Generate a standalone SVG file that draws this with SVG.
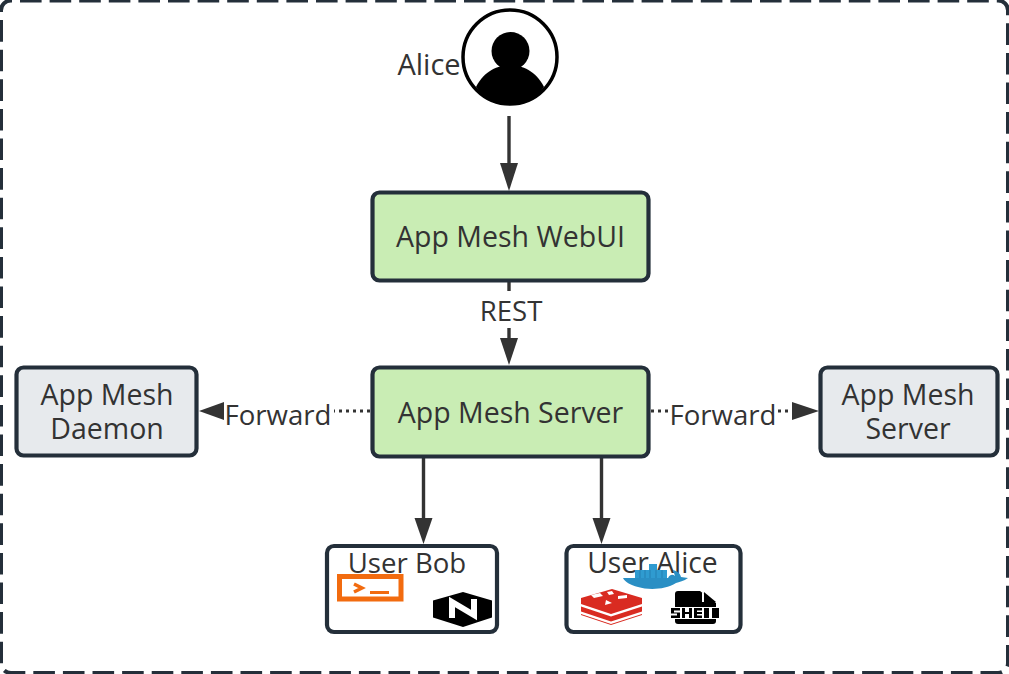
<svg xmlns="http://www.w3.org/2000/svg" width="1009" height="674" viewBox="0 0 1009 674">
<style>
text{font-family:"Open Sans","Noto Sans","Liberation Sans",sans-serif;fill:#333;text-anchor:middle}
.l{font-size:28.5px}.s{font-size:27.6px}
.box{stroke:#242f3a;stroke-width:4.2}
.g{fill:#c9edb4}.y{fill:#e7eaed}.w{fill:#fff}
.c{stroke:#333;stroke-width:3.400;fill:none}
.d{stroke:#333;stroke-width:3;fill:none;stroke-dasharray:3 4}
.h{fill:#333}
</style>
<rect width="1009" height="674" fill="#fff"/>
<rect id="frame" x="1" y="0.500" width="1007" height="672.500" rx="10" fill="none" stroke="#242f3a" stroke-width="4" stroke-dasharray="21.600 8" stroke-dashoffset="-9"/>
<g id="connectors">
<path class="c" d="M509 116V166"/><path class="h" d="M500 163h18l-9 28z"/>
<path class="c" d="M509 282V291"/><path class="c" d="M509 328V340"/><path class="h" d="M500 338h18l-9 27z"/>
<path class="d" d="M370 411H334"/><path class="h" d="M199 411l25-9v18z"/>
<path class="d" d="M651 411H668"/><path class="d" d="M778 411H792"/><path class="h" d="M792 402l27 9-27 9z"/>
<path class="c" d="M423.500 457V520"/><path class="h" d="M414.500 518h18l-9 26z"/>
<path class="c" d="M601.500 457V520"/><path class="h" d="M592.500 518h18l-9 26z"/>
<text class="s" x="511" y="321">REST</text>
<text class="s" x="278" y="425">Forward</text>
<text class="s" x="723" y="425">Forward</text>
</g>
<g id="alice">
<circle cx="510" cy="57" r="47" fill="#fff" stroke="#000" stroke-width="3.500"/>
<circle cx="510.500" cy="51" r="19" fill="#000"/>
<path d="M476 87C484 71 498 65 510 65S536 71 544 87C536 99 523 105 510 105S484 99 476 87Z" fill="#000"/>
<text class="s" x="429" y="75" style="font-size:29px">Alice</text>
</g>
<g id="webui"><rect class="box g" x="372.500" y="192.500" width="276" height="88" rx="7"/><text class="l" x="510.500" y="247">App Mesh WebUI</text></g>
<g id="server"><rect class="box g" x="372.500" y="367.500" width="276" height="89" rx="7"/><text class="l" x="510.500" y="423">App Mesh Server</text></g>
<g id="daemon"><rect class="box y" x="16.500" y="367.500" width="180" height="88" rx="7"/><text class="l" x="107" y="405">App Mesh</text><text class="l" x="107" y="439">Daemon</text></g>
<g id="remote"><rect class="box y" x="820.500" y="367.500" width="177" height="88" rx="7"/><text class="l" x="908" y="405">App Mesh</text><text class="l" x="908" y="439">Server</text></g>
<g id="bob">
<rect class="box w" x="327" y="546" width="170" height="86" rx="7"/>
<text class="s" x="407" y="573">User Bob</text>
<rect x="339.500" y="576.500" width="61.500" height="22.500" fill="#fff" stroke="#f26b0f" stroke-width="5"/>
<path d="M354 584l8 4-8 4" fill="none" stroke="#f26b0f" stroke-width="3.500"/><path d="M370 592.500h19" fill="none" stroke="#f26b0f" stroke-width="3"/>
<path d="M463 592l29 8.500v17L463 627l-30-9.500v-17z" fill="#000"/>
<path d="M452 618v-16l22 13v-16" fill="none" stroke="#fff" stroke-width="6"/>
</g>
<g id="user-alice">
<rect class="box w" x="566.500" y="546" width="174" height="86" rx="7"/>
<text class="s" x="652.500" y="573" style="font-size:28.3px">User Alice</text>
<path d="M623 578H668C670 574 673 574 675 576L673 570C677 571 680 573 681 577L688 578C684 581 679 582 676 583C665 590 648 590 638 587C630 585 625 582 623 578Z" fill="#2a8fc4"/>
<path d="M635 570h32v8h-32zM649 564h8v7h-8z" fill="#2f9bd0"/>
<path d="M640 570v8M645 570v8M650 570v8M656 570v8M662 570v8" stroke="#1d6f9e" stroke-width=".6"/>
<path d="M612 589l30 9v6l-31 10-30-10v-6z" fill="#d92b21"/>
<path d="M581 606.500l30 10 31-10v5l-31 10-30-10z" fill="#d92b21"/>
<path d="M581 614l30 10 31-10v1l-31 10-30-10z" fill="#d92b21"/>
<path d="M591 595l9-2 3 3-9 2zM618 596l9-1v3l-9 1zM607 592l5-1 2 3-5 1zM606 600l6 3-7 2z" fill="#fff"/>
<path d="M675 594q0-3 3-3h22l16 12v4h-41z" fill="#000"/>
<path d="M702 592l12 10h-12z" fill="#fff"/><path d="M704 592l12 10h-12z" fill="#000"/>
<path d="M675 619h41v2q0 3-3 3h-35q-3 0-3-3z" fill="#000"/>
<path d="M671 608h9v2.500h-6v2h6v5.500h-9v-2.500h6v-2h-6zM682 608h3v4h4v-4h3v10h-3v-4h-4v4h-3zM694 608h8v2.500h-5v1.500h5v2h-5v1.500h5v2.500h-8zM704 608h5v10h-5zM712 608h7v10h-7z" fill="#000"/>
</g>
</svg>
